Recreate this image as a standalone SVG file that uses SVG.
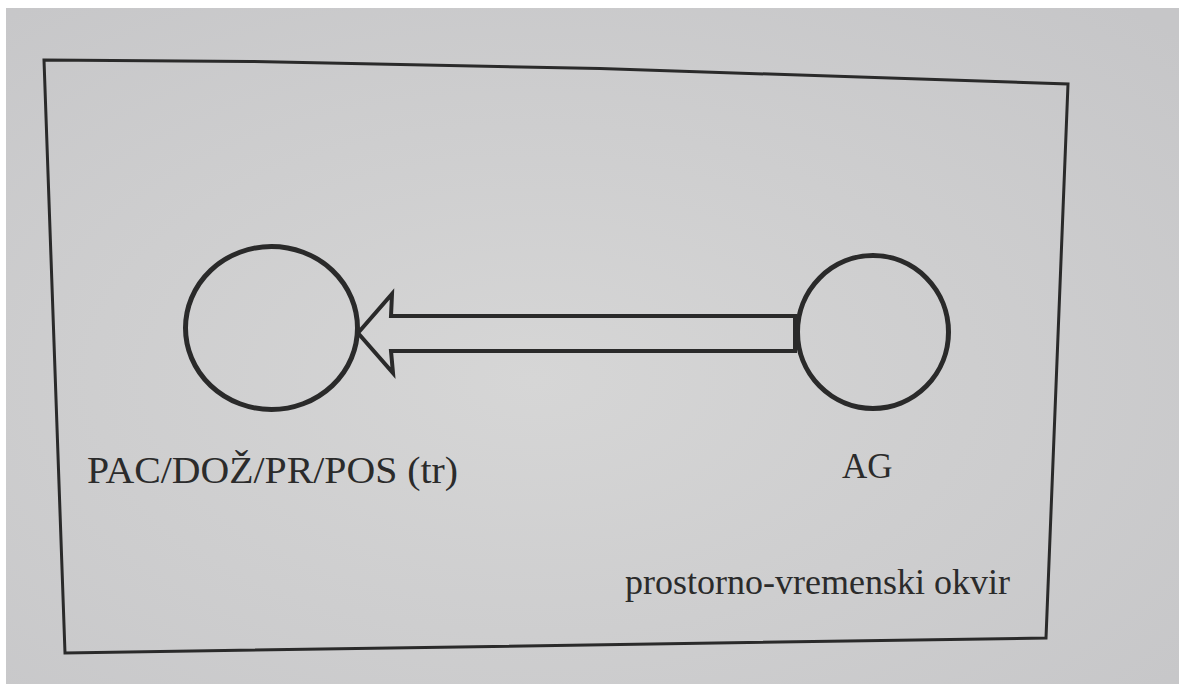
<svg xmlns="http://www.w3.org/2000/svg" width="1179" height="684" viewBox="0 0 1179 684">
  <defs>
    <radialGradient id="paper" cx="0.45" cy="0.55" r="0.75">
      <stop offset="0" stop-color="#d6d6d6"/>
      <stop offset="1" stop-color="#c6c6c8"/>
    </radialGradient>
    <style>
      .ink { fill: none; stroke: #2a2a2a; stroke-linejoin: miter; }
      .lbl { font-family: "Liberation Serif", "Times New Roman", serif; fill: #2b2b2b; }
    </style>
  </defs>
  <rect x="0" y="0" width="1179" height="684" fill="#ffffff"/>
  <rect x="6" y="8" width="1173" height="676" fill="url(#paper)"/>

  <g id="frame">
    <path class="ink" stroke-width="3" d="M44,60 L250,61.5 L600,68.5 L1068,84 L1046,638 L65,653 Z"/>
    <text class="lbl" x="625" y="594" font-size="36">prostorno-vremenski okvir</text>
  </g>

  <g id="connectors">
    <polygon class="ink" stroke-width="4" points="795,316 391,316 392,294 358,333 393,373 391,351 795,351"/>
  </g>

  <g id="node-pac">
    <ellipse class="ink" stroke-width="5" cx="271.5" cy="328" rx="86" ry="81.5"/>
    <text class="lbl" x="87" y="483" font-size="38.5" textLength="371" lengthAdjust="spacingAndGlyphs">PAC/DOŽ/PR/POS (tr)</text>
  </g>

  <g id="node-ag">
    <ellipse class="ink" stroke-width="5" cx="873" cy="332" rx="75.5" ry="76.5"/>
    <text class="lbl" x="842" y="478" font-size="35">AG</text>
  </g>
</svg>
